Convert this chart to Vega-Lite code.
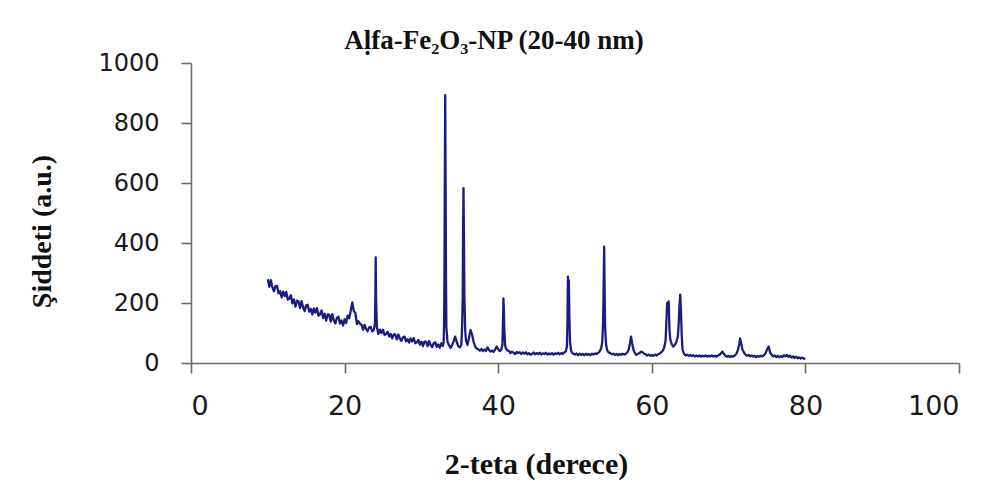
{
  "$schema": "https://vega.github.io/schema/vega-lite/v6.json",
  "autosize": {"type": "none"},
  "width": 768,
  "height": 300,
  "padding": {"left": 191, "top": 63, "right": 33, "bottom": 135},
  "background": "white",
  "title": {
    "text": "Al\u0323fa-Fe\u2082O\u2083-NP (20-40 nm)",
    "font": "Liberation Serif",
    "fontSize": 27,
    "fontWeight": "bold",
    "color": "#111111",
    "anchor": "middle",
    "frame": "group",
    "dx": -81,
    "dy": 40,
    "baseline": "alphabetic",
    "offset": 15
  },
  "config": {
    "view": {"stroke": null},
    "axis": {
      "grid": false,
      "domainColor": "#6a6a6a",
      "domainWidth": 1.6,
      "tickColor": "#6a6a6a",
      "tickWidth": 1.6,
      "tickSize": 10,
      "labelFont": "DejaVu Sans",
      "labelColor": "#1a1a1a",
      "titleFont": "Liberation Serif",
      "titleFontWeight": "bold",
      "titleColor": "#111111"
    }
  },
  "data": {
    "values": [
      {"x": 10.0, "y": 279}, {"x": 10.2, "y": 254}, {"x": 10.4, "y": 276}, {"x": 10.6, "y": 252}, {"x": 10.8, "y": 239},
      {"x": 11.0, "y": 256}, {"x": 11.2, "y": 257}, {"x": 11.4, "y": 232}, {"x": 11.6, "y": 239}, {"x": 11.8, "y": 219},
      {"x": 12.0, "y": 238}, {"x": 12.2, "y": 223}, {"x": 12.4, "y": 237}, {"x": 12.6, "y": 211}, {"x": 12.8, "y": 215},
      {"x": 13.0, "y": 226}, {"x": 13.2, "y": 199}, {"x": 13.4, "y": 212}, {"x": 13.6, "y": 188}, {"x": 13.8, "y": 208},
      {"x": 14.0, "y": 206}, {"x": 14.2, "y": 183}, {"x": 14.4, "y": 206}, {"x": 14.6, "y": 185}, {"x": 14.8, "y": 173},
      {"x": 15.0, "y": 192}, {"x": 15.2, "y": 194}, {"x": 15.4, "y": 171}, {"x": 15.6, "y": 180}, {"x": 15.8, "y": 162},
      {"x": 16.0, "y": 182}, {"x": 16.2, "y": 168}, {"x": 16.4, "y": 183}, {"x": 16.6, "y": 158}, {"x": 16.8, "y": 163},
      {"x": 17.0, "y": 175}, {"x": 17.2, "y": 150}, {"x": 17.4, "y": 164}, {"x": 17.6, "y": 141}, {"x": 17.8, "y": 162},
      {"x": 18.0, "y": 161}, {"x": 18.2, "y": 138}, {"x": 18.4, "y": 163}, {"x": 18.6, "y": 142}, {"x": 18.8, "y": 132},
      {"x": 19.0, "y": 151}, {"x": 19.2, "y": 154}, {"x": 19.4, "y": 132}, {"x": 19.6, "y": 142}, {"x": 19.8, "y": 125},
      {"x": 20.0, "y": 146}, {"x": 20.2, "y": 133}, {"x": 20.4, "y": 158}, {"x": 20.6, "y": 149}, {"x": 20.8, "y": 174},
      {"x": 21.0, "y": 202}, {"x": 21.2, "y": 173}, {"x": 21.4, "y": 167}, {"x": 21.6, "y": 130}, {"x": 21.8, "y": 139},
      {"x": 22.0, "y": 131}, {"x": 22.2, "y": 127}, {"x": 22.4, "y": 111}, {"x": 22.6, "y": 127}, {"x": 22.8, "y": 113},
      {"x": 23.0, "y": 106}, {"x": 23.2, "y": 119}, {"x": 23.4, "y": 120}, {"x": 23.6, "y": 105}, {"x": 23.8, "y": 111},
      {"x": 23.95, "y": 130}, {"x": 24.0, "y": 215}, {"x": 24.05, "y": 352}, {"x": 24.1, "y": 215}, {"x": 24.2, "y": 120},
      {"x": 24.4, "y": 97}, {"x": 24.6, "y": 111}, {"x": 24.8, "y": 100}, {"x": 25.0, "y": 111}, {"x": 25.2, "y": 94},
      {"x": 25.4, "y": 97}, {"x": 25.6, "y": 104}, {"x": 25.8, "y": 88}, {"x": 26.0, "y": 97}, {"x": 26.2, "y": 82},
      {"x": 26.4, "y": 95}, {"x": 26.6, "y": 95}, {"x": 26.8, "y": 79}, {"x": 27.0, "y": 95}, {"x": 27.2, "y": 81},
      {"x": 27.4, "y": 74}, {"x": 27.6, "y": 86}, {"x": 27.8, "y": 88}, {"x": 28.0, "y": 72}, {"x": 28.2, "y": 79},
      {"x": 28.4, "y": 68}, {"x": 28.6, "y": 82}, {"x": 28.8, "y": 72}, {"x": 29.0, "y": 83}, {"x": 29.2, "y": 66},
      {"x": 29.4, "y": 69}, {"x": 29.6, "y": 77}, {"x": 29.8, "y": 61}, {"x": 30.0, "y": 71}, {"x": 30.2, "y": 56},
      {"x": 30.4, "y": 71}, {"x": 30.6, "y": 71}, {"x": 30.8, "y": 56}, {"x": 31.0, "y": 73}, {"x": 31.2, "y": 60},
      {"x": 31.4, "y": 53}, {"x": 31.6, "y": 66}, {"x": 31.8, "y": 69}, {"x": 32.0, "y": 54}, {"x": 32.2, "y": 62},
      {"x": 32.4, "y": 51}, {"x": 32.6, "y": 66}, {"x": 32.8, "y": 57}, {"x": 32.9, "y": 70}, {"x": 32.95, "y": 130},
      {"x": 33.0, "y": 285}, {"x": 33.05, "y": 600}, {"x": 33.1, "y": 893}, {"x": 33.15, "y": 600}, {"x": 33.2, "y": 290},
      {"x": 33.25, "y": 120}, {"x": 33.4, "y": 70}, {"x": 33.6, "y": 59}, {"x": 33.8, "y": 50}, {"x": 34.0, "y": 60},
      {"x": 34.2, "y": 72}, {"x": 34.4, "y": 88}, {"x": 34.6, "y": 70}, {"x": 34.8, "y": 56}, {"x": 35.0, "y": 52},
      {"x": 35.2, "y": 60}, {"x": 35.3, "y": 120}, {"x": 35.38, "y": 217}, {"x": 35.42, "y": 400}, {"x": 35.48, "y": 583},
      {"x": 35.55, "y": 400}, {"x": 35.6, "y": 217}, {"x": 35.7, "y": 110}, {"x": 35.8, "y": 75}, {"x": 36.0, "y": 60},
      {"x": 36.2, "y": 85}, {"x": 36.4, "y": 110}, {"x": 36.6, "y": 95}, {"x": 36.8, "y": 70}, {"x": 37.0, "y": 55},
      {"x": 37.2, "y": 48}, {"x": 37.4, "y": 46}, {"x": 37.6, "y": 41}, {"x": 37.8, "y": 47}, {"x": 38.0, "y": 40},
      {"x": 38.2, "y": 45}, {"x": 38.4, "y": 40}, {"x": 38.6, "y": 52}, {"x": 38.8, "y": 44}, {"x": 39.0, "y": 38},
      {"x": 39.2, "y": 41}, {"x": 39.4, "y": 37}, {"x": 39.6, "y": 45}, {"x": 39.8, "y": 55}, {"x": 40.0, "y": 46},
      {"x": 40.2, "y": 40}, {"x": 40.4, "y": 44}, {"x": 40.55, "y": 60}, {"x": 40.62, "y": 130}, {"x": 40.68, "y": 215},
      {"x": 40.74, "y": 180}, {"x": 40.8, "y": 110}, {"x": 40.9, "y": 60}, {"x": 41.0, "y": 48}, {"x": 41.2, "y": 42},
      {"x": 41.4, "y": 40}, {"x": 41.6, "y": 33}, {"x": 41.8, "y": 38}, {"x": 42.0, "y": 34}, {"x": 42.2, "y": 30},
      {"x": 42.4, "y": 37}, {"x": 42.6, "y": 33}, {"x": 42.8, "y": 36}, {"x": 43.0, "y": 30}, {"x": 43.2, "y": 35},
      {"x": 43.4, "y": 31}, {"x": 43.6, "y": 36}, {"x": 43.8, "y": 29}, {"x": 44.0, "y": 33}, {"x": 44.2, "y": 28},
      {"x": 44.4, "y": 30}, {"x": 44.6, "y": 35}, {"x": 44.8, "y": 29}, {"x": 45.0, "y": 33}, {"x": 45.2, "y": 30},
      {"x": 45.4, "y": 34}, {"x": 45.6, "y": 28}, {"x": 45.8, "y": 32}, {"x": 46.0, "y": 30}, {"x": 46.2, "y": 34},
      {"x": 46.4, "y": 28}, {"x": 46.6, "y": 32}, {"x": 46.8, "y": 29}, {"x": 47.0, "y": 33}, {"x": 47.2, "y": 28},
      {"x": 47.4, "y": 32}, {"x": 47.6, "y": 30}, {"x": 47.8, "y": 34}, {"x": 48.0, "y": 29}, {"x": 48.2, "y": 33},
      {"x": 48.4, "y": 30}, {"x": 48.6, "y": 35}, {"x": 48.8, "y": 38}, {"x": 48.95, "y": 55}, {"x": 49.02, "y": 140},
      {"x": 49.08, "y": 288}, {"x": 49.14, "y": 250}, {"x": 49.2, "y": 275}, {"x": 49.27, "y": 150}, {"x": 49.35, "y": 70},
      {"x": 49.5, "y": 40}, {"x": 49.7, "y": 32}, {"x": 50.0, "y": 28}, {"x": 50.2, "y": 32}, {"x": 50.4, "y": 26},
      {"x": 50.6, "y": 31}, {"x": 50.8, "y": 27}, {"x": 51.0, "y": 30}, {"x": 51.2, "y": 26}, {"x": 51.4, "y": 31},
      {"x": 51.6, "y": 27}, {"x": 51.8, "y": 30}, {"x": 52.0, "y": 26}, {"x": 52.2, "y": 31}, {"x": 52.4, "y": 28},
      {"x": 52.6, "y": 32}, {"x": 52.8, "y": 30}, {"x": 53.0, "y": 34}, {"x": 53.2, "y": 38}, {"x": 53.4, "y": 48},
      {"x": 53.55, "y": 70}, {"x": 53.65, "y": 130}, {"x": 53.72, "y": 230}, {"x": 53.8, "y": 388}, {"x": 53.86, "y": 240},
      {"x": 53.92, "y": 120}, {"x": 54.05, "y": 60}, {"x": 54.2, "y": 42}, {"x": 54.4, "y": 35}, {"x": 54.6, "y": 33},
      {"x": 54.8, "y": 29}, {"x": 55.0, "y": 31}, {"x": 55.2, "y": 27}, {"x": 55.4, "y": 30}, {"x": 55.6, "y": 26},
      {"x": 55.8, "y": 30}, {"x": 56.0, "y": 27}, {"x": 56.2, "y": 31}, {"x": 56.4, "y": 28}, {"x": 56.6, "y": 30},
      {"x": 56.8, "y": 35}, {"x": 57.0, "y": 45}, {"x": 57.15, "y": 65}, {"x": 57.3, "y": 88}, {"x": 57.45, "y": 65},
      {"x": 57.6, "y": 45}, {"x": 57.8, "y": 33}, {"x": 58.0, "y": 27}, {"x": 58.2, "y": 31}, {"x": 58.4, "y": 33},
      {"x": 58.6, "y": 38}, {"x": 58.8, "y": 36}, {"x": 59.0, "y": 31}, {"x": 59.2, "y": 29}, {"x": 59.4, "y": 25},
      {"x": 59.6, "y": 28}, {"x": 59.8, "y": 24}, {"x": 60.0, "y": 27}, {"x": 60.2, "y": 24}, {"x": 60.4, "y": 28},
      {"x": 60.6, "y": 25}, {"x": 60.8, "y": 29}, {"x": 61.0, "y": 31}, {"x": 61.2, "y": 35}, {"x": 61.4, "y": 40},
      {"x": 61.6, "y": 50}, {"x": 61.8, "y": 75}, {"x": 61.9, "y": 140}, {"x": 62.0, "y": 200}, {"x": 62.1, "y": 170},
      {"x": 62.2, "y": 205}, {"x": 62.3, "y": 110}, {"x": 62.4, "y": 80}, {"x": 62.6, "y": 62}, {"x": 62.8, "y": 55},
      {"x": 63.0, "y": 60}, {"x": 63.2, "y": 70}, {"x": 63.4, "y": 90}, {"x": 63.5, "y": 130}, {"x": 63.6, "y": 190},
      {"x": 63.7, "y": 228}, {"x": 63.8, "y": 170}, {"x": 63.9, "y": 90}, {"x": 64.0, "y": 45}, {"x": 64.2, "y": 30},
      {"x": 64.4, "y": 25}, {"x": 64.6, "y": 28}, {"x": 64.8, "y": 24}, {"x": 65.0, "y": 27}, {"x": 65.2, "y": 23},
      {"x": 65.4, "y": 26}, {"x": 65.6, "y": 22}, {"x": 65.8, "y": 25}, {"x": 66.0, "y": 22}, {"x": 66.2, "y": 25},
      {"x": 66.4, "y": 21}, {"x": 66.6, "y": 24}, {"x": 66.8, "y": 22}, {"x": 67.0, "y": 25}, {"x": 67.2, "y": 21},
      {"x": 67.4, "y": 24}, {"x": 67.6, "y": 22}, {"x": 67.8, "y": 25}, {"x": 68.0, "y": 22}, {"x": 68.2, "y": 24},
      {"x": 68.4, "y": 21}, {"x": 68.6, "y": 25}, {"x": 68.8, "y": 27}, {"x": 69.0, "y": 32}, {"x": 69.2, "y": 38},
      {"x": 69.4, "y": 30}, {"x": 69.6, "y": 24}, {"x": 69.8, "y": 21}, {"x": 70.0, "y": 24}, {"x": 70.2, "y": 20},
      {"x": 70.4, "y": 23}, {"x": 70.6, "y": 21}, {"x": 70.8, "y": 25}, {"x": 71.0, "y": 30}, {"x": 71.2, "y": 42},
      {"x": 71.4, "y": 65}, {"x": 71.5, "y": 82}, {"x": 71.6, "y": 70}, {"x": 71.8, "y": 45}, {"x": 72.0, "y": 35},
      {"x": 72.2, "y": 28}, {"x": 72.4, "y": 24}, {"x": 72.6, "y": 27}, {"x": 72.8, "y": 22}, {"x": 73.0, "y": 25},
      {"x": 73.2, "y": 21}, {"x": 73.4, "y": 24}, {"x": 73.6, "y": 20}, {"x": 73.8, "y": 23}, {"x": 74.0, "y": 21},
      {"x": 74.2, "y": 24}, {"x": 74.4, "y": 22}, {"x": 74.6, "y": 26}, {"x": 74.8, "y": 32}, {"x": 75.0, "y": 45},
      {"x": 75.2, "y": 55}, {"x": 75.3, "y": 48}, {"x": 75.4, "y": 35}, {"x": 75.6, "y": 28}, {"x": 75.8, "y": 22},
      {"x": 76.0, "y": 25}, {"x": 76.2, "y": 20}, {"x": 76.4, "y": 24}, {"x": 76.6, "y": 19}, {"x": 76.8, "y": 23},
      {"x": 77.0, "y": 20}, {"x": 77.2, "y": 26}, {"x": 77.4, "y": 22}, {"x": 77.6, "y": 27}, {"x": 77.8, "y": 21},
      {"x": 78.0, "y": 24}, {"x": 78.2, "y": 18}, {"x": 78.4, "y": 22}, {"x": 78.6, "y": 17}, {"x": 78.8, "y": 21},
      {"x": 79.0, "y": 16}, {"x": 79.2, "y": 19}, {"x": 79.4, "y": 15}, {"x": 79.6, "y": 18}, {"x": 79.8, "y": 14},
      {"x": 80.0, "y": 16}
    ]
  },
  "mark": {"type": "line", "color": "#1c1c80", "strokeWidth": 2.3, "strokeJoin": "round"},
  "encoding": {
    "x": {
      "field": "x",
      "type": "quantitative",
      "scale": {"domain": [0, 100], "nice": false},
      "axis": {
        "values": [0, 20, 40, 60, 80, 100],
        "format": "d",
        "title": "2-teta (derece)",
        "labelFontSize": 27,
        "labelPadding": 20,
        "titleFontSize": 30,
        "titleX": 345,
        "titleY": 110,
        "titleAlign": "center",
        "titleBaseline": "alphabetic"
      }
    },
    "y": {
      "field": "y",
      "type": "quantitative",
      "scale": {"domain": [0, 1000], "nice": false},
      "axis": {
        "values": [0, 200, 400, 600, 800, 1000],
        "format": "d",
        "title": "Şiddeti (a.u.)",
        "labelFontSize": 24,
        "labelPadding": 22,
        "titleFontSize": 28,
        "titleX": -141,
        "titleY": 168,
        "titleAngle": -90,
        "titleAlign": "center",
        "titleBaseline": "alphabetic"
      }
    }
  }
}
